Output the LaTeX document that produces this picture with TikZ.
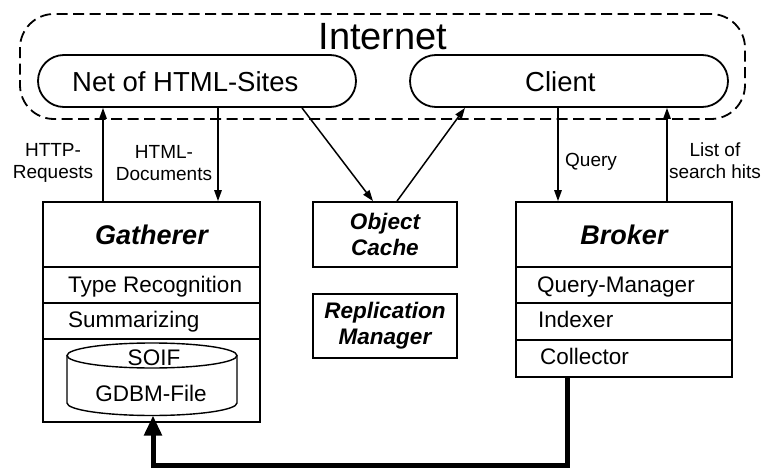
\documentclass[tikz,border=0pt]{standalone}
\usepackage{fontspec}
\setmainfont{Liberation Sans}
\usetikzlibrary{arrows.meta}
\begin{document}
\begin{tikzpicture}[x=1pt,y=-1pt,line join=miter,
  box/.style={draw, line width=1.8pt, rectangle, inner sep=0pt},
  pill/.style={draw, line width=1.8pt, rounded corners=26pt, minimum height=52pt, inner sep=0pt},
  arr/.style={line width=1.5pt, -{Triangle[length=11pt,width=7.5pt]}},
  title/.style={font=\fontsize{27}{30}\selectfont\bfseries\itshape},
  sub/.style={font=\fontsize{22.5}{26}\selectfont\bfseries\itshape, align=center},
  item/.style={font=\fontsize{22.5}{26}\selectfont, anchor=base west, inner sep=0pt},
  big/.style={font=\fontsize{27.5}{32}\selectfont, inner sep=0pt},
  lbl/.style={font=\fontsize{19}{22}\selectfont, align=center, inner sep=0pt},
]
\useasboundingbox (0,0) rectangle (766,468);

% Internet frame with the two sites inside
\node[draw, line width=1.8pt, dash pattern=on 11pt off 5.5pt, rounded corners=34pt,
      minimum width=725pt, minimum height=105pt, inner sep=0pt] (inet) at (382.5,66.5) {};
\node[font=\fontsize{38}{44}\selectfont, anchor=base, inner sep=0pt] (inettxt) at (383,50) {Internet};
\node[pill, minimum width=318pt] (net) at (197,81) {};
\node[big, anchor=base west] (nettxt) at (72,92) {Net of HTML-Sites};
\node[pill, minimum width=318pt] (client) at (569,81) {};
\node[big, anchor=base west] (clienttxt) at (525,92) {Client};

% Gatherer
\node[box, minimum width=217pt, minimum height=65pt, title] (gtitle) at (151.5,234.5) {Gatherer};
\node[box, minimum width=217pt, minimum height=36pt] (gtype) at (151.5,285) {};
\node[box, minimum width=217pt, minimum height=36pt] (gsum) at (151.5,321) {};
\node[box, minimum width=217pt, minimum height=83pt] (gstore) at (151.5,380.5) {};
\node[item] (gtypetxt) at (68,292) {Type Recognition};
\node[item] (gsumtxt) at (68,327) {Summarizing};

% database cylinder
\draw[line width=1.4pt] (67,355.5) -- (67,403)
  arc[start angle=180,end angle=360,x radius=85pt,y radius=12.5pt] -- (237,355.5);
\draw[line width=1.4pt] (152,355.5) ellipse[x radius=85pt, y radius=12.5pt];
\node[font=\fontsize{22.5}{26}\selectfont, anchor=base, inner sep=0pt] (soif) at (154,365) {SOIF};
\node[font=\fontsize{22.5}{26}\selectfont, anchor=base, inner sep=0pt] (gdbm) at (151,401) {GDBM-File};
\coordinate (dbbot) at (153,415.5);

% middle boxes
\node[box, minimum width=144pt, minimum height=65pt, sub] (oc) at (385,234.5) {Object\\Cache};
\node[box, minimum width=144pt, minimum height=64pt, sub] (rm) at (385,326) {Replication\\Manager};

% Broker
\node[box, minimum width=216pt, minimum height=65pt, title] (btitle) at (624,234.5) {Broker};
\node[box, minimum width=216pt, minimum height=36pt] (bqm) at (624,285) {};
\node[box, minimum width=216pt, minimum height=37pt] (bidx) at (624,321.5) {};
\node[box, minimum width=216pt, minimum height=37pt] (bcoll) at (624,358.5) {};
\node[item] (bqmtxt) at (537,292) {Query-Manager};
\node[item] (bidxtxt) at (538,327) {Indexer};
\node[item] (bcolltxt) at (540,364) {Collector};

% connector columns
\coordinate (xa) at (103,0);
\coordinate (xb) at (218,0);
\coordinate (xc) at (302,0);
\coordinate (xd) at (373,0);
\coordinate (xe) at (397,0);
\coordinate (xf) at (465,0);
\coordinate (xg) at (558,0);
\coordinate (xh) at (667,0);
\coordinate (xk) at (567,0);

\draw[arr] (gtitle.north -| xa) -- (net.south -| xa);
\draw[arr] (net.south -| xb) -- (gtitle.north -| xb);
\draw[arr] (net.south -| xc) -- (oc.north -| xd);
\draw[arr] (oc.north -| xe) -- (client.south -| xf);
\draw[arr] (client.south -| xg) -- (btitle.north -| xg);
\draw[arr] (btitle.north -| xh) -- (client.south -| xh);

% connector labels
\node[lbl] (l1) at (53,163) {HTTP-\\Requests};
\node[lbl] (l2) at (164,163) {HTML-\\Documents};
\node[lbl, anchor=base west] (l3) at (565,167) {Query};
\node[lbl] (l4) at (715,161) {List of\\search hits};

% collector feeds the gatherer's database
\draw[line width=5pt, -{Triangle[length=20pt,width=17pt]}]
  (bcoll.south -| xk) -- ++(0,88) -| (dbbot);
\end{tikzpicture}
\end{document}
